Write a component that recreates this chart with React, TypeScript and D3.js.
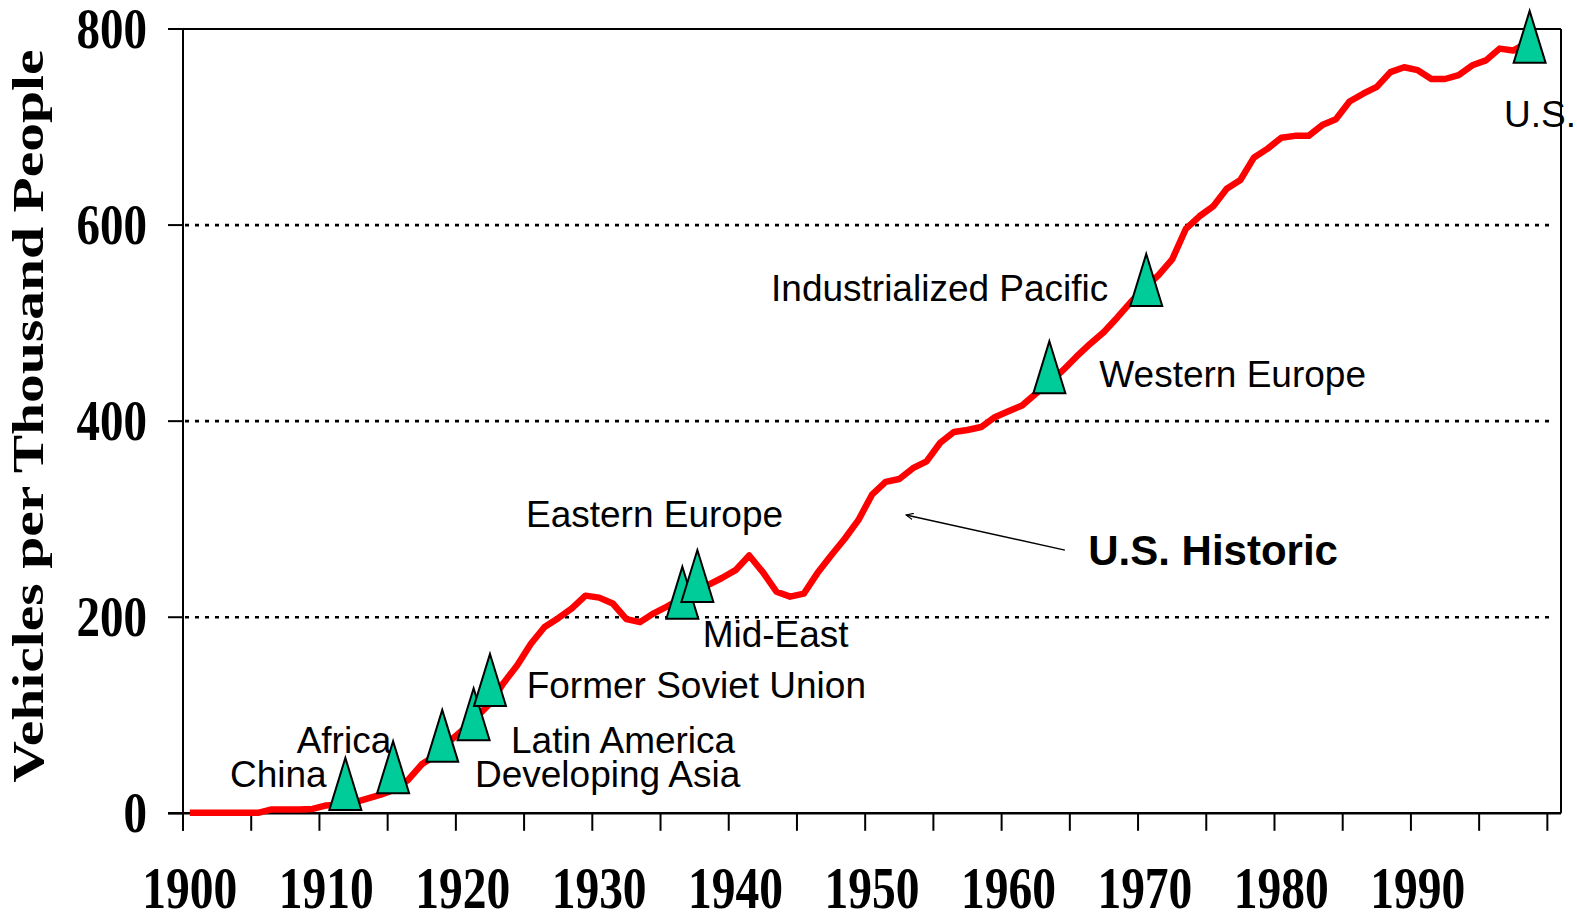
import React from 'react';
import * as d3 from 'd3';

// ---- data ----
const firstYear = 1900;
const vehiclesPerThousand = [
  0.5, 0.5, 0.5, 0.5, 0.5, 0.5, 4, 4, 4, 4.5, // 1900-1909
  8, 9, 11, 15, 19, 24, 34, 50, 59, 73, // 1910-1919
  85, 98, 112, 133, 151, 173, 190, 199, 209, 222, // 1920-1929
  220, 214, 198, 195, 204, 211, 219, 226, 233, 240, // 1930-1939
  248, 263, 246, 226, 221, 224, 245, 263, 280, 299, // 1940-1949
  325, 338, 341, 352, 359, 378, 389, 391, 394, 404, // 1950-1959
  410, 416, 428, 439, 452, 466, 479, 491, 506, 522, // 1960-1969
  536, 549, 565, 596, 609, 619, 637, 646, 669, 678, // 1970-1979
  689, 691, 691, 702, 708, 726, 734, 741, 756, 761, // 1980-1989
  758, 749, 749, 753, 763, 768, 780, 778, 786, // 1990-1998
];
const xTickLabels = ['1900', '1910', '1920', '1930', '1940', '1950', '1960', '1970', '1980', '1990'];
const yTickValues = [0, 200, 400, 600, 800];

// region markers (year, vehicles per thousand)
const markerYears = [1911.4, 1914.9, 1918.5, 1920.8, 1922.0, 1936.1, 1937.2, 1963.0, 1970.1, 1998.2];
const markerValues = [30, 47, 79, 101, 136, 225, 242, 455, 544, 792];

// annotation texts and anchors in data units (year, value)
const labelTexts = ['China', 'Africa', 'Latin America', 'Developing Asia', 'Former Soviet Union', 'Eastern Europe', 'Mid-East', 'Industrialized Pacific', 'Western Europe', 'U.S.'];
const labelYears = [1902.94, 1907.83, 1923.54, 1920.9, 1924.69, 1924.64, 1937.59, 1942.6, 1966.66, 1996.32];
const labelValues = [27.1, 61.8, 61.8, 27.1, 117.3, 292, 170, 522.9, 434.5, 700.3];

const historicText = 'U.S. Historic';
const historicAnchor = [1965.85, 253.3];
const arrowFrom = [1964.14, 268.5];
const arrowTo = [1952.5, 304.3];

const yTitle = 'Vehicles per Thousand People';

export default function App() {
  const W = 1577;
  const H = 915;
  const left = 183;
  const right = 1561;
  const top = 29;
  const bottom = 813.3;

  const x = d3.scaleLinear().domain([1899.5, 2000.5]).range([left, right]);
  const y = d3.scaleLinear().domain([0, 800]).range([bottom, top]);

  const pts: [number, number][] = vehiclesPerThousand.map((v, i) => [firstYear + i, v]);
  const line = d3
    .line<[number, number]>()
    .x((d) => x(d[0]))
    .y((d) => y(d[1]));

  const tickYears = d3.range(0, 21).map((k) => 1899.5 + 5 * k);

  const serif = '"Liberation Serif", "Times New Roman", serif';
  const sans = '"Liberation Sans", Arial, sans-serif';
  const triW = 32;
  const triH = 52;
  const stretch = 1.2;

  return (
    <svg
      width={W}
      height={H}
      style={{ position: 'absolute', left: 0, top: 0, background: '#fff' }}
    >
      <defs>
        <marker id="ah" viewBox="0 0 10 10" refX="9" refY="5" markerWidth="8" markerHeight="8" orient="auto-start-reverse" markerUnits="userSpaceOnUse">
          <path d="M0,1 L9,5 L0,9" fill="none" stroke="#000" strokeWidth="1.4" />
        </marker>
      </defs>
      <rect x={0} y={0} width={W} height={H} fill="#fff" />

      {/* dotted gridlines */}
      {yTickValues
        .filter((v) => v > 0 && v < 800)
        .map((v) => (
          <line
            key={'g' + v}
            x1={left + 2}
            x2={right - 8}
            y1={y(v)}
            y2={y(v)}
            stroke="#000"
            strokeWidth={2.6}
            strokeDasharray="4 6"
          />
        ))}

      {/* plot border top & right */}
      <line x1={168} x2={right} y1={top} y2={top} stroke="#000" strokeWidth={2} />
      <line x1={right} x2={right} y1={top} y2={bottom} stroke="#000" strokeWidth={2} />

      {/* y axis */}
      <line x1={left} x2={left} y1={top} y2={bottom + 17.5} stroke="#000" strokeWidth={2} />
      {yTickValues.map((v) => (
        <line key={'yt' + v} x1={168} x2={left} y1={y(v)} y2={y(v)} stroke="#000" strokeWidth={2} />
      ))}
      {yTickValues.map((v) => (
        <text
          key={'yl' + v}
          transform={`translate(147,${y(v) + 18.5}) scale(1,${stretch})`}
          textAnchor="end"
          fontFamily={serif}
          fontWeight="bold"
          fontSize={47}
          fill="#000"
        >
          {v}
        </text>
      ))}

      {/* x axis */}
      <line x1={168} x2={right} y1={bottom} y2={bottom} stroke="#000" strokeWidth={2.6} />
      {tickYears.map((t) => (
        <line key={'xt' + t} x1={x(t)} x2={x(t)} y1={bottom} y2={bottom + 17.5} stroke="#000" strokeWidth={2} />
      ))}
      {xTickLabels.map((lab) => (
        <text
          key={'xl' + lab}
          transform={`translate(${x(+lab)},908) scale(1,${stretch + 0.03})`}
          textAnchor="middle"
          fontFamily={serif}
          fontWeight="bold"
          fontSize={47.5}
          fill="#000"
        >
          {lab}
        </text>
      ))}

      {/* y title */}
      <text
        transform={`translate(43,416) rotate(-90) scale(1.28,1)`}
        textAnchor="middle"
        fontFamily={serif}
        fontWeight="bold"
        fontSize={45}
        fill="#000"
      >
        {yTitle}
      </text>

      {/* U.S. historic line */}
      <path d={line(pts) || ''} fill="none" stroke="#ff0000" strokeWidth={6.5} strokeLinejoin="round" strokeLinecap="butt" />

      {/* annotation arrow */}
      <line
        x1={x(arrowFrom[0])}
        y1={y(arrowFrom[1])}
        x2={x(arrowTo[0])}
        y2={y(arrowTo[1])}
        stroke="#000"
        strokeWidth={1.4}
        markerEnd="url(#ah)"
      />
      <text
        x={x(historicAnchor[0])}
        y={y(historicAnchor[1])}
        fontFamily={sans}
        fontWeight="bold"
        fontSize={42}
        fill="#000"
      >
        {historicText}
      </text>

      {/* labels */}
      {labelTexts.map((t, i) => (
        <text key={'lab' + i} x={x(labelYears[i])} y={y(labelValues[i])} fontFamily={sans} fontSize={37} fill="#000">
          {t}
        </text>
      ))}

      {/* region markers */}
      {markerYears.map((yr, i) => {
        const cx = x(yr);
        const cy = y(markerValues[i]);
        const d = `M${cx},${cy - triH / 2} L${cx + triW / 2},${cy + triH / 2} L${cx - triW / 2},${cy + triH / 2} Z`;
        return <path key={'m' + i} d={d} fill="#00cc99" stroke="#000" strokeWidth={2} strokeLinejoin="miter" />;
      })}
    </svg>
  );
}
